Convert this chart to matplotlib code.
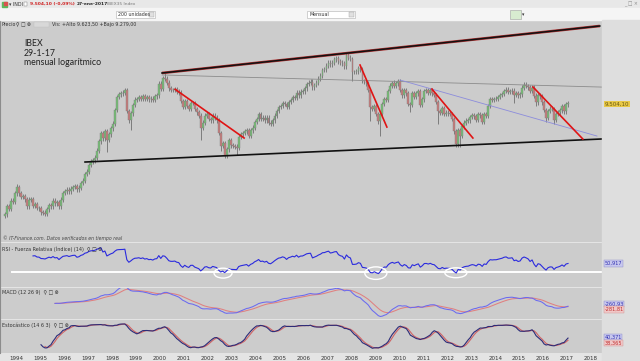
import numpy as np
import pandas as pd
import matplotlib
matplotlib.use('Agg')
import matplotlib.pyplot as plt
from matplotlib.patches import Rectangle, Ellipse

W, H = 640, 361

# IBEX 35, cierres mensuales jul-1993 .. ene-2017
start_year, start_month = 1993, 7
closes = [
    2900, 3150, 3080, 3350, 3300, 3615,                                        # 1993 jul-dic
    3880, 3620, 3480, 3520, 3400, 3150, 3380, 3400, 3180, 3220, 3100, 3088,    # 1994
    2960, 2950, 2920, 3050, 3200, 3150, 3350, 3250, 3300, 3150, 3380, 3630,    # 1995
    3700, 3760, 3700, 3800, 3880, 3900, 3780, 3850, 4050, 4150, 4450, 4558,    # 1996
    4900, 5100, 5150, 5300, 5700, 6300, 6900, 6500, 7000, 6400, 6800, 7255,    # 1997
    7600, 8800, 10100, 10400, 10500, 10600, 10900, 8700, 7900, 8500, 9300, 9837,  # 1998
    9900, 10100, 9900, 10200, 9900, 10100, 9850, 9950, 9800, 10200, 10300, 11641,  # 1999
    11000, 12400, 12300, 11800, 11100, 10900, 10900, 11000, 10700, 10600, 9700, 9109,  # 2000
    9700, 9200, 8900, 9500, 9500, 8900, 8600, 8300, 7300, 7700, 8300, 8397,    # 2001
    8000, 7900, 8300, 8100, 7900, 6900, 6000, 6200, 5400, 5800, 6400, 6036,    # 2002
    6000, 5950, 5900, 6600, 6800, 6900, 7000, 7100, 6700, 7100, 7300, 7737,    # 2003
    8000, 8400, 8000, 8100, 7900, 8100, 7700, 7600, 7900, 8300, 8700, 9080,    # 2004
    9200, 9500, 9400, 9100, 9600, 9800, 10100, 10000, 10600, 10300, 10700, 10733,  # 2005
    11100, 11600, 11800, 11900, 11200, 11500, 11800, 12300, 12700, 13500, 13600, 14146,  # 2006
    14600, 14300, 14600, 15100, 15300, 14800, 14600, 14500, 14000, 15900, 15400, 15182,  # 2007
    13200, 13200, 13300, 13800, 13600, 12000, 11900, 11700, 10900, 9100, 8900, 9196,  # 2008
    8450, 7800, 8400, 9400, 9900, 9800, 10800, 11400, 11750, 11400, 11700, 11940,  # 2009
    10900, 10300, 10900, 10500, 9400, 9300, 10500, 10100, 10500, 10800, 9300, 9859,  # 2010
    10800, 10850, 10600, 10900, 10500, 10350, 9600, 8700, 8550, 8950, 8450, 8566,  # 2011
    8500, 8450, 8000, 7000, 6100, 7100, 6700, 7400, 7700, 7850, 7900, 8168,    # 2012
    8360, 8230, 7920, 8420, 8320, 7760, 8430, 8290, 9190, 9910, 9840, 9917,    # 2013
    9920, 10110, 10340, 10460, 10800, 10920, 10710, 10730, 10830, 10350, 10520, 10280,  # 2014
    10400, 11180, 11520, 11390, 11220, 10770, 11180, 10260, 9560, 10350, 10190, 9544,  # 2015
    8800, 8120, 8720, 8940, 8900, 7950, 8430, 8580, 8780, 9140, 8690, 9350,    # 2016
    9504,                                                                      # 2017 ene
]
first_open = 2850

# mechas largas que se ven en el grafico
wick_lows = {(1995, 3): 2880, (1997, 10): 5600, (1998, 10): 7100, (2001, 9): 6400,
             (2002, 7): 5700, (2002, 9): 5330, (2003, 3): 5450, (2008, 1): 12000,
             (2008, 10): 7800, (2009, 3): 6700, (2010, 6): 8650, (2011, 8): 7600,
             (2012, 7): 5950, (2013, 6): 7550, (2014, 10): 9500, (2015, 9): 9200,
             (2016, 2): 7750, (2016, 6): 7580}
wick_highs = {(1994, 1): 3990, (1998, 7): 10980, (2000, 3): 13050, (2007, 10): 15950,
              (2008, 5): 14200, (2009, 10): 12100, (2015, 4): 11880}

# lineas dibujadas (anio, precio)
upper_line = ([2000.09, 2018.37], [13060, 21560])
gray_line = ([2000.10, 2018.46], [12790, 11240])
lower_line = ([1996.88, 2018.46], [5056, 6464])
blue_line = ([2010.03, 2018.25], [12120, 6670])
red_lines = [([2000.64, 2003.52], [10980, 6530]),
             ([2008.36, 2009.48], [14220, 7340]),
             ([2011.36, 2013.07], [11010, 6530]),
             ([2015.58, 2017.66], [11250, 6460])]
rsi_circles = [(2002.64, 26, 0.75, 26), (2009.02, 26, 0.92, 33), (2012.36, 27, 0.92, 26)]

years = list(range(1994, 2019))
price_ticks = [4000, 6000, 8000, 10000, 12000, 14000, 16000, 20000]

# ---------------------------------------------------------------
n = len(closes)
c = np.array(closes, float)
o = np.r_[first_open, c[:-1]]
hi = np.maximum(o, c) * 1.025
lo = np.minimum(o, c) * 0.975
ym = [(start_year + (start_month - 1 + i) // 12, (start_month - 1 + i) % 12 + 1) for i in range(n)]
for i, k in enumerate(ym):
    if k in wick_lows:
        lo[i] = min(lo[i], wick_lows[k])
    if k in wick_highs:
        hi[i] = max(hi[i], wick_highs[k])
t = np.array([y + (m - 0.5) / 12 for y, m in ym])

s = pd.Series(c)
# RSI 14 (Wilder)
d = s.diff()
up_ = d.clip(lower=0).ewm(alpha=1/14, adjust=False, min_periods=14).mean()
dn_ = (-d.clip(upper=0)).ewm(alpha=1/14, adjust=False, min_periods=14).mean()
rsi = 100 - 100 / (1 + up_ / dn_)
# MACD 12 26 9
macd = s.ewm(span=12, adjust=False).mean() - s.ewm(span=26, adjust=False).mean()
sig = macd.ewm(span=9, adjust=False).mean()
macd[:25] = np.nan
sig[:25] = np.nan
# Estocastico 14 6 3
hh = pd.Series(hi).rolling(14).max()
ll = pd.Series(lo).rolling(14).min()
k_raw = (s - ll) / (hh - ll) * 100
k_slow = k_raw.rolling(6).mean()
d_slow = k_slow.rolling(3).mean()


def rect(x0, y0, x1, y1):
    return [x0 / W, 1 - y1 / H, (x1 - x0) / W, (y1 - y0) / H]


def fx(x):
    return x / W


def fy(y):
    return 1 - y / H


def dots(v):
    return f"{v:,.0f}".replace(",", ".")


plt.rcParams['font.family'] = ['DejaVu Sans']
fig = plt.figure(figsize=(6.4, 3.61), dpi=100, facecolor='#e4e4e4')

# barras superiores
fig.patches.append(Rectangle((0, fy(8)), 1, 8 / H, transform=fig.transFigure, color='#e8e8e8', zorder=0))
fig.patches.append(Rectangle((0, fy(20)), 1, 12 / H, transform=fig.transFigure, color='#f5f5f5', zorder=0))
fig.patches.append(Rectangle((fx(2), fy(7)), 5 / W, 5 / H, transform=fig.transFigure, color='#5cb85c', zorder=1))
fig.patches.append(Rectangle((fx(4), fy(5)), 3 / W, 3 / H, transform=fig.transFigure, color='#d9534f', zorder=2))
ts = 3.4
fig.text(fx(9), fy(4), "▾ INDI", fontsize=ts, va='center', color='#333')
fig.patches.append(Rectangle((fx(24), fy(6)), 3 / W, 4 / H, transform=fig.transFigure, fc='white', ec='#777', lw=0.3))
fig.text(fx(30), fy(4), "9.504,10 (-0,09%)", fontsize=ts - 0.2, va='center', color='#d02020', weight='bold')
fig.text(fx(77), fy(4), "27-ene-2017", fontsize=ts - 0.2, va='center', color='#222', weight='bold')
fig.text(fx(107), fy(4), "IBEX35 Index", fontsize=ts - 0.3, va='center', color='#777')
fig.text(fx(624), fy(4), "_ □ ×", fontsize=ts, va='center', color='#888')
for x0, x1, lab in [(116, 155, "200 unidades"), (307, 355, "Mensual")]:
    fig.patches.append(Rectangle((fx(x0), fy(18)), (x1 - x0) / W, 7 / H, transform=fig.transFigure,
                                 fc='white', ec='#b0b0b0', lw=0.4, zorder=1))
    fig.patches.append(Rectangle((fx(x1 - 6), fy(17)), 5 / W, 5 / H, transform=fig.transFigure,
                                 fc='#e0e0e0', ec='#a0a0a0', lw=0.3, zorder=2))
    fig.text(fx(x0 + 2), fy(14.5), lab, fontsize=ts, va='center', color='#333')
fig.patches.append(Rectangle((fx(510), fy(19)), 11 / W, 9 / H, transform=fig.transFigure,
                             fc='#d8ecd0', ec='#a0a0a0', lw=0.4, zorder=1))
fig.text(fx(522), fy(14.5), "▾", fontsize=ts, va='center', color='#333')
# banda derecha de escalas
fig.patches.append(Rectangle((fx(602), 0), 38 / W, fy(20), transform=fig.transFigure, color='#dedede', zorder=0))

ax = fig.add_axes(rect(0, 20, 602, 242))
ax_rsi = fig.add_axes(rect(0, 243, 602, 287))
ax_macd = fig.add_axes(rect(0, 288, 602, 319))
ax_sto = fig.add_axes(rect(0, 320, 602, 353))

for a in (ax, ax_rsi, ax_macd, ax_sto):
    a.set_facecolor('#cccccc')
    a.set_xlim(1993.33, 2018.46)
    for sp in a.spines.values():
        sp.set_visible(False)
    a.spines['left'].set_visible(True)
    a.spines['left'].set_color('#8c8c8c')
    a.yaxis.tick_right()
    a.tick_params(axis='y', labelsize=4.2, labelcolor='#333', color='#777', length=2, pad=1.5, width=0.4)
    a.tick_params(axis='x', length=0)
    a.set_xticks([])

# precio
ax.set_yscale('log')
ax.set_ylim(2155, 22981)
ax.vlines(t, lo, hi, color='#777777', lw=0.65, zorder=2)
up = c >= o
ax.bar(t[up], (c - o)[up], bottom=o[up], width=0.075, color='#74c074', edgecolor='#808080', lw=0.3, zorder=3)
ax.bar(t[~up], (o - c)[~up], bottom=c[~up], width=0.075, color='#c87a7a', edgecolor='#808080', lw=0.3, zorder=3)
ax.plot(*upper_line, color='#b03030', lw=1.9, zorder=4, solid_capstyle='butt')
ax.plot(*upper_line, color='#111', lw=1.1, zorder=5)
ax.plot(*gray_line, color='#8c8c8c', lw=0.6, zorder=4)
ax.plot(*lower_line, color='#111', lw=1.2, zorder=4)
ax.plot(*blue_line, color='#8c8cdc', lw=0.6, zorder=4)
for xs, ps in red_lines:
    ax.plot(xs, ps, color='#e01414', lw=1.2, zorder=5)
ax.set_yticks(price_ticks)
ax.set_yticklabels([dots(v) for v in price_ticks])
ax.yaxis.set_minor_locator(plt.NullLocator())
for lab in ax.get_yticklabels():
    if lab.get_text() == "10.000":
        lab.set_weight('bold')
        lab.set_color('#111')
fig.text(fx(24), fy(44), "IBEX", fontsize=6.3, family='Lato', color='#222', va='center')
fig.text(fx(24), fy(53), "29-1-17", fontsize=6.3, family='Lato', color='#222', va='center')
fig.text(fx(24), fy(62.5), "mensual logarítmico", fontsize=6.3, family='Lato', color='#222', va='center')
fig.text(fx(2), fy(24.5), "Precio", fontsize=ts, va='center', color='#333')
fig.text(fx(16.5), fy(24.5), "⚲ □ ⊗", fontsize=ts, va='center', color='#333')
fig.patches.append(Rectangle((fx(34), fy(27)), 15 / W, 5 / H, transform=fig.transFigure,
                             fc='#d8d8d8', ec='#c0c0c0', lw=0.3, zorder=3))
fig.text(fx(52), fy(24.5), "Vis: +Alto 9.623,50 +Bajo 9.279,00", fontsize=ts, va='center', color='#333')
fig.text(fx(3), fy(238.5), "© IT-Finance.com. Datos verificados en tiempo real", fontsize=3.3,
         style='italic', va='center', color='#444')
fig.text(fx(604.5), fy(104), "9.504,10", fontsize=4.0, va='center', color='#6a5a10',
         bbox=dict(fc='#e8c848', ec='none', pad=0.6))

# RSI
ax_rsi.set_ylim(-10.5, 105.3)
ax_rsi.axhline(30, xmin=(1993.83 - 1993.33) / 25.13, color='white', lw=1.4, zorder=2)
ax_rsi.plot(t, rsi, color='#2a2ade', lw=0.8, zorder=3)
for cx, cy, w_, h_ in rsi_circles:
    ax_rsi.add_patch(Ellipse((cx, cy), w_, h_, fill=False, ec='white', lw=1.0, zorder=4))
ax_rsi.set_yticks([0, 20, 40, 80, 100])
ax_rsi.text(0.003, 0.93, "RSI - Fuerza Relativa (Índice) (14)  ⚲ □ ⊗", transform=ax_rsi.transAxes,
            fontsize=3.5, va='top', color='#333')
fig.text(fx(604.5), fy(263.5), "50,917", fontsize=3.6, va='center', color='#3030b0',
         bbox=dict(fc='#c8c8ee', ec='#8888c8', lw=0.3, pad=0.4))

# MACD
ax_macd.set_ylim(-1476, 1476)
ax_macd.plot(t, sig, color='#e08080', lw=0.75, zorder=3)
ax_macd.plot(t, macd, color='#6a6af0', lw=0.75, zorder=4)
ax_macd.set_yticks([-1000, 1000])
ax_macd.set_yticklabels(["-1.000", "1.000"])
ax_macd.text(0.003, 0.93, "MACD (12 26 9)  ⚲ □ ⊗", transform=ax_macd.transAxes,
             fontsize=3.5, va='top', color='#333')
fig.text(fx(604.5), fy(304), "-260,93", fontsize=3.6, va='center', color='#3030b0',
         bbox=dict(fc='#c8c8ee', ec='#8888c8', lw=0.3, pad=0.4))
fig.text(fx(604.5), fy(309.5), "-281,81", fontsize=3.6, va='center', color='#c03030',
         bbox=dict(fc='#f0c8c8', ec='#d09090', lw=0.3, pad=0.4))

# Estocastico
ax_sto.set_ylim(-8.2, 109.6)
ax_sto.plot(t, d_slow, color='#d06464', lw=0.8, zorder=3)
ax_sto.plot(t, k_slow, color='#2c2c78', lw=0.8, zorder=4)
ax_sto.set_yticks([0, 100])
ax_sto.text(0.003, 0.93, "Estocástico (14 6 3)  ⚲ □ ⊗", transform=ax_sto.transAxes,
            fontsize=3.5, va='top', color='#333')
fig.text(fx(604.5), fy(337), "40,371", fontsize=3.6, va='center', color='#3030b0',
         bbox=dict(fc='#c8c8ee', ec='#8888c8', lw=0.3, pad=0.4))
fig.text(fx(604.5), fy(343), "38,365", fontsize=3.6, va='center', color='#c03030',
         bbox=dict(fc='#f0c8c8', ec='#d09090', lw=0.3, pad=0.4))
ax_sto.set_xticks(years)
ax_sto.set_xticklabels([str(y) for y in years])
ax_sto.tick_params(axis='x', labelsize=4.0, labelcolor='#333', length=0, pad=2.5)

fig.savefig('out.png', dpi=100, facecolor=fig.get_facecolor())
